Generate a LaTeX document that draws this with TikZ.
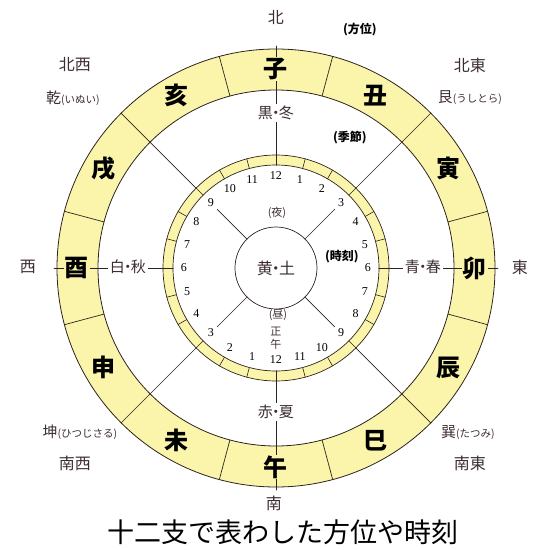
\documentclass[tikz,border=0pt]{standalone}
\usepackage{fontspec}
\newfontfamily\cjk{Noto Sans CJK JP}
\newfontfamily\numfont{Liberation Serif}
\definecolor{ringyellow}{RGB}{250,245,170}
\definecolor{edgebrown}{RGB}{45,35,30}
\definecolor{labelgray}{RGB}{60,45,50}
\newcommand{\fs}[1]{\fontsize{#1}{#1}\selectfont}
\newcommand{\mdot}{\hspace{-0.3em}・\hspace{-0.3em}}
\tikzset{
  eto/.style={font=\cjk\bfseries\fs{24}, fill=ringyellow, inner sep=1pt},
  season/.style={font=\cjk\fs{15}, fill=white, inner sep=2pt, text=labelgray},
  hourno/.style={font=\numfont\fs{12}, inner sep=0pt},
  compass/.style={font=\cjk\fs{16}, text=labelgray},
  corner/.style={font=\cjk\fs{16}, text=labelgray},
  tag/.style={font=\cjk\bfseries\fs{12}},
  small/.style={font=\cjk\fs{11}, text=labelgray, inner sep=0pt}
}
\begin{document}
\begin{tikzpicture}[x=1pt, y=1pt, line join=round, line cap=round, draw=edgebrown]
\useasboundingbox (-276,-282) rectangle (259,268);
\filldraw[fill=ringyellow, even odd rule, draw=edgebrown, line width=0.8pt] (0,0) circle (219) (0,0) circle (178);
\filldraw[fill=ringyellow, even odd rule, draw=edgebrown, line width=0.7pt] (0,0) circle (113) (0,0) circle (103);
\draw[line width=0.7pt] (0,0) circle (41);
\foreach \a in {15,45,...,345}
  \draw[line width=0.7pt] (\a:178) -- (\a:219);
\foreach \a in {0,15,...,345}
  \draw[line width=0.6pt] (\a:103) -- (\a:113);
\foreach \a in {45,135,225,315}{
  \draw[line width=0.7pt] (\a:113) -- (\a:178);
  \draw[line width=0.7pt] (\a:41) -- (\a:83);
}
\foreach \a in {0,90,180,270}
  \draw[line width=0.7pt] (\a:222) -- (\a:103);
\foreach \e [count=\i from 0] in {子,丑,寅,卯,辰,巳,午,未,申,酉,戌,亥}
  \node[eto] (eto\i) at ({90-30*\i}:199) {\e};
\foreach \k in {0,...,23}{
  \pgfmathtruncatemacro\h{mod(\k+11,12)+1}
  \node[hourno] (hour\k) at ({90-15*\k}:92) {\h};
}
\node[season] (winter) at (0,155) {黒\mdot 冬};
\node[season] (autumn) at (-148,1) {白\mdot 秋};
\node[season] (spring) at (147,1) {青\mdot 春};
\node[season] (summer) at (0,-144) {赤\mdot 夏};
\node[season, fill=none, font=\cjk\fs{16}] (earth) at (0,0) {黄\mdot 土};
\node[small] (night) at (1,55) {(夜)};
\node[small] (day) at (2,-47) {(昼)};
\node[small] (sho) at (0,-63) {正};
\node[small] (go) at (0,-76) {午};
\node[tag] (hoi) at (84,238) {(方位)};
\node[tag] (kisetsu) at (74,130) {(季節)};
\node[tag] (jikoku) at (66,11) {(時刻)};
\node[compass] (north) at (0,251) {北};
\node[compass] (south) at (-2,-235) {南};
\node[compass] (west) at (-248,1) {西};
\node[compass] (east) at (244,1) {東};
\node[corner] (nw) at (-201,203) {北西};
\node[corner] (ne) at (194,203) {北東};
\node[corner] (sw) at (-201,-195) {南西};
\node[corner] (se) at (194,-195) {南東};
\node[corner, font=\cjk\fs{15}] (inui) at (-203,170) {乾\fs{10.5}(いぬい)};
\node[corner, font=\cjk\fs{15}] (ushitora) at (194,170) {艮\fs{10.5}(うしとら)};
\node[corner, font=\cjk\fs{15}] (hitsujisaru) at (-196,-164) {坤\fs{10.5}(ひつじさる)};
\node[corner, font=\cjk\fs{15}] (tatsumi) at (192,-165) {巽\fs{10.5}(たつみ)};
\node[font=\cjk\fs{27}] (title) at (7,-264) {十二支で表わした方位や時刻};
\end{tikzpicture}
\end{document}
